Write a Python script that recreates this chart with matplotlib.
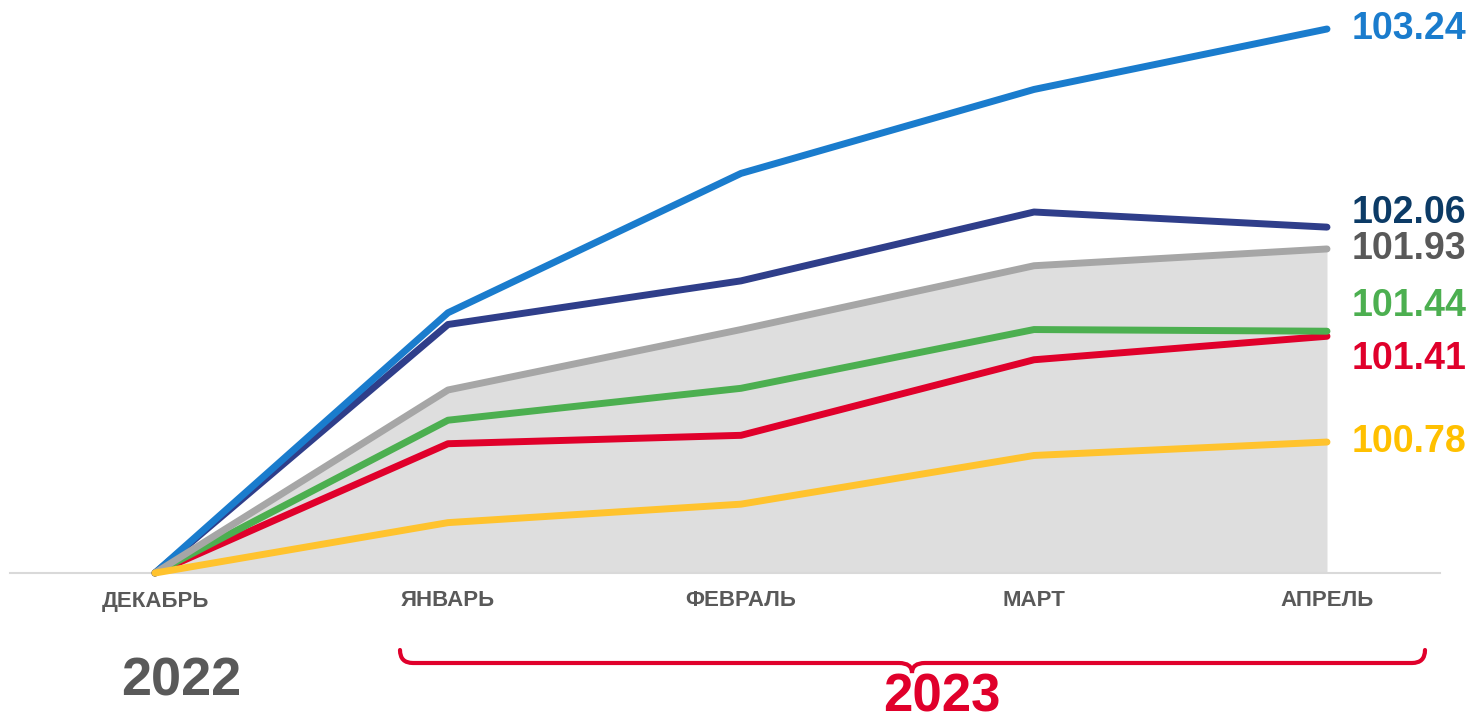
import numpy as np
import matplotlib.pyplot as plt
from matplotlib.path import Path
from matplotlib.patches import PathPatch

plt.rcParams['font.family'] = ['Liberation Sans', 'DejaVu Sans']

# %%
# data

months = ["ДЕКАБРЬ", "ЯНВАРЬ", "ФЕВРАЛЬ", "МАРТ", "АПРЕЛЬ"]

blue   = [100.00, 101.55, 102.38, 102.88, 103.24]
navy   = [100.00, 101.48, 101.74, 102.15, 102.06]
gray   = [100.00, 101.09, 101.45, 101.83, 101.93]
green  = [100.00, 100.91, 101.10, 101.45, 101.44]
red    = [100.00, 100.77, 100.82, 101.27, 101.41]
yellow = [100.00, 100.30, 100.41, 100.70, 100.78]

#          values --- line colour --- label colour --- label offset (px) --- zorder
series = [[navy,   "#2f3e8a", "#0c3b66", 14, 3],
          [blue,   "#1a7ccd", "#1a7ccd", 0, 4],
          [red,    "#e0002b", "#e0002b", -23, 5],
          [green,  "#4caf50", "#4caf50", 25, 6],
          [gray,   "#a6a6a6", "#595959", 0, 7],
          [yellow, "#ffc32e", "#ffc000", 0, 8]]

# %%
# layout (pixels -> data)

W, H = 1468, 720
x0_px, dx_px = 155, 293          # december position, spacing between months
y0_px, dy_px = 573, 167.9        # baseline (100) position, px per unit

fig = plt.figure(figsize=(W / 100, H / 100), dpi=100)
ax = fig.add_axes([0, 0, 1, 1])
ax.set_xlim(-x0_px / dx_px, (W - x0_px) / dx_px)
ax.set_ylim(100 - (H - y0_px) / dy_px, 100 + y0_px / dy_px)
ax.axis("off")

def px_x(p):
    return (p - x0_px) / dx_px

def px_y(p):
    return 100 + (y0_px - p) / dy_px

x = np.arange(len(months))

ax.fill_between(x, 100, gray, color="#dedede", lw=0, zorder=1)
ax.plot([px_x(10), px_x(1440)], [100, 100], color="#d9d9d9", lw=1.5, zorder=2)

for vals, lc, tc, off, z in series:
    ax.plot(x, vals, color=lc, lw=5, solid_capstyle="round", solid_joinstyle="round", zorder=z)
    ax.text(px_x(1352), vals[-1] + off / dy_px, "%.2f" % vals[-1], color=tc,
            fontsize=27, fontweight="bold", ha="left", va="center", zorder=10)

for i, m in enumerate(months):
    ax.text(x[i], px_y(601), m, color="#595959", fontsize=16, fontweight="bold",
            ha="center", va="center")

# year labels
ax.text(px_x(181), px_y(682), "2022", color="#595959", fontsize=39, fontweight="bold",
        ha="center", va="center")
ax.text(px_x(942), px_y(697), "2023", color="#e0002b", fontsize=38, fontweight="bold",
        ha="center", va="center")

# brace under 2023 months
xl, xm, xr = 400, 912, 1425
yt, yh, yp = 650, 663, 673
r = 13
pts = [(xl, yt), (xl, yh), (xl + r, yh),
       (xm - r, yh), (xm, yh), (xm, yp),
       (xm, yh), (xm + r, yh),
       (xr - r, yh), (xr, yh), (xr, yt)]
codes = [Path.MOVETO, Path.CURVE3, Path.CURVE3,
         Path.LINETO, Path.CURVE3, Path.CURVE3,
         Path.CURVE3, Path.CURVE3,
         Path.LINETO, Path.CURVE3, Path.CURVE3]
brace = Path([(px_x(a), px_y(b)) for a, b in pts], codes)
ax.add_patch(PathPatch(brace, fc="none", ec="#e0002b", lw=3, capstyle="round", zorder=5))

fig.savefig("out.png", dpi=100)
